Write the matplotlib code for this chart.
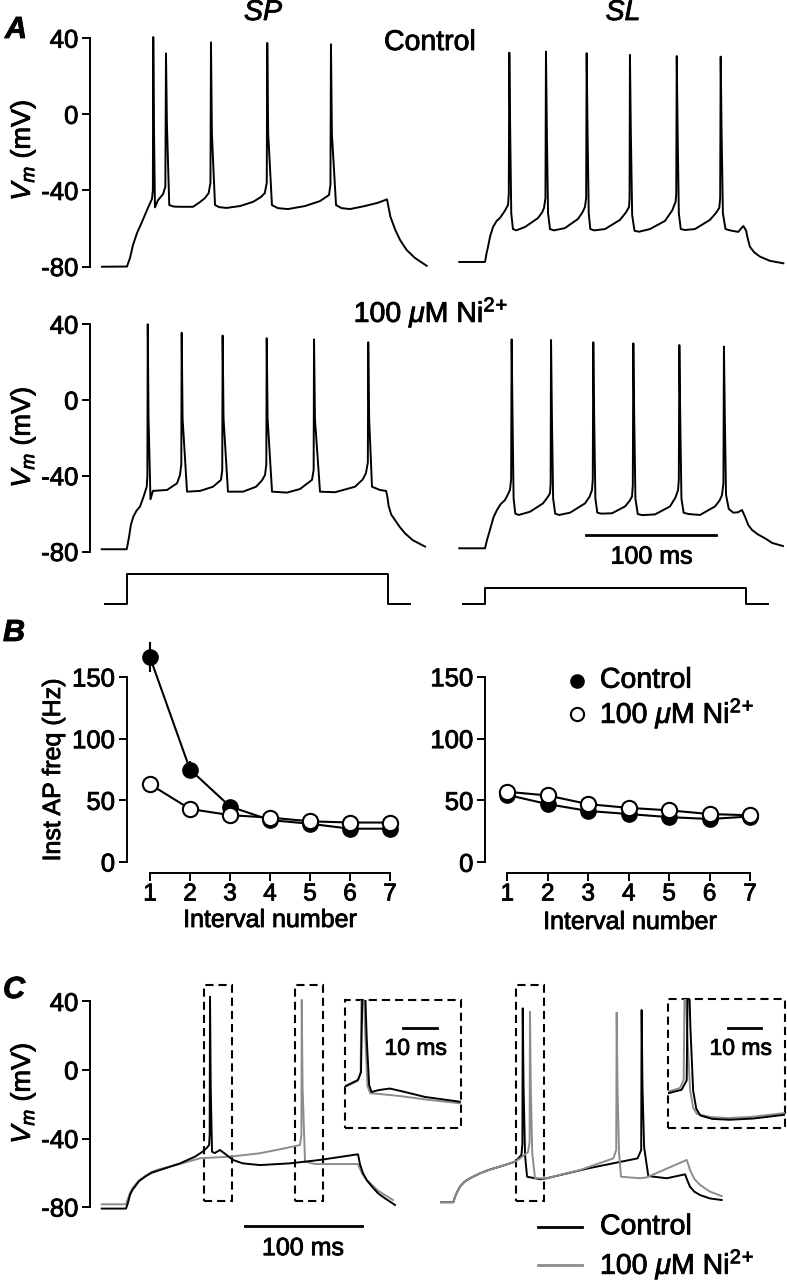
import numpy as np
import matplotlib
matplotlib.use('Agg')
import matplotlib.pyplot as plt
import matplotlib.patheffects as pe
from matplotlib.patches import Rectangle

plt.rcParams['font.family'] = ['Liberation Sans', 'DejaVu Sans']
plt.rcParams['mathtext.fontset'] = 'custom'
plt.rcParams['mathtext.rm'] = 'Liberation Sans'
plt.rcParams['mathtext.it'] = 'Liberation Sans:italic'
plt.rcParams['mathtext.bf'] = 'Liberation Sans:bold'
plt.rcParams['axes.unicode_minus'] = False

W, H = 787, 1280
GREY = '#8c8c8c'
NI = r'100 $\mu$M Ni$^{2}$$^{+}$'
VM = r'$V_m$ (mV)'

# ---------------- data (time in ms from step onset, Vm in mV) ----------------
# A, control
sp_ctrl = np.array([(-19.2, -80.1), (0, -80), (1.0, -78), (2.3, -75.5), (4.6, -68.7), (7.7, -62.4),
    (11.5, -56.6), (15.4, -50.3), (19.2, -44.5), (19.9, -40), (20.2, 40.6), (20.8, -10), (21.5, -48.9),
    (23.8, -45.2), (27.7, -42), (29.5, -38), (30.0, 32), (30.7, -5), (32.5, -47.7), (36, -48.5),
    (40.8, -48.6), (50.8, -48.6), (56, -46.2), (60, -44), (62.8, -41.4), (64.2, -36), (64.6, 37.8),
    (65.3, -10), (67.7, -47.7), (71, -48.8), (76.7, -49.2), (87, -48.2), (97, -46), (103, -43.5),
    (106, -41.4), (107.5, -36), (107.9, 37.5), (108.6, -10), (111.5, -47.7), (116, -49.3), (123.8, -49.8),
    (137, -48.2), (148.5, -45.6), (155.4, -42.4), (156.5, -37), (156.9, 36.8), (157.6, -10),
    (160.8, -47.7), (165, -49.3), (171.5, -49.8), (183, -48.2), (193, -46.5), (200, -44.7), (202.6, -53.8),
    (206.4, -60.8), (210, -66), (215.1, -71.3), (221.5, -75.5), (230.5, -79.6)])
sl_ctrl = np.array([(-19.8, -77.6), (0, -77.6), (1.2, -73), (2.3, -69.7), (4, -64), (6.2, -59.2),
    (9, -56), (11.5, -54.5), (15, -51), (17.7, -47.7), (18.3, -42), (18.7, 32.4), (19.4, -10),
    (20.2, -52), (21.5, -60.3), (24, -61), (30.8, -59.2), (40.8, -54.5), (44, -51.5), (45.4, -49.2),
    (46.5, -44), (46.9, 32.9), (47.6, -10), (48.5, -52), (50, -60.3), (53, -61), (61.5, -59.8),
    (71.5, -55), (75, -51.5), (76.9, -48.7), (77.8, -44), (78.2, 32.1), (78.9, -10), (79.8, -52),
    (81, -60.3), (84, -61), (92.3, -60.3), (103.8, -55.5), (108.5, -51.5), (110.8, -48.7), (111.2, -44),
    (111.5, 31.2), (112.2, -10), (113.2, -53), (115, -61.2), (118.5, -61.7), (126.9, -60.3), (138.5, -56),
    (144, -50.5), (146.6, -46), (147.1, -42), (147.5, 30.6), (148.2, -10), (149.1, -52), (150.6, -60.3),
    (154, -60.8), (161.5, -60.3), (173, -55.5), (177.5, -52), (180.2, -49.2), (180.9, -44), (181.3, 30.3),
    (182, -10), (183, -52), (185, -60.3), (188.5, -61), (194.8, -61.8), (197, -60), (198.7, -58.7),
    (200.8, -61), (202, -65), (203.8, -69.6), (207, -72.5), (211.5, -74.8), (219.2, -77), (229.5, -78.3)])
# A, 100 uM Ni2+
sp_ni = np.array([(-19.2, -78.8), (0, -78.8), (0.8, -76), (1.8, -72.3), (3.2, -66), (5.1, -61.6),
    (7.5, -58.5), (10.2, -56.3), (13, -51), (15.4, -45.8), (15.9, -40), (16.2, 40), (16.8, -10),
    (18.3, -52.4), (20.2, -48), (31, -47.5), (38.7, -44), (41, -39.6), (42.0, -34), (42.3, 35.5),
    (43, -10), (46.4, -48.4), (56.4, -48), (66.4, -45.8), (72.5, -42.2), (73.5, -37), (73.8, 34),
    (74.5, -10), (77.9, -48.4), (89.5, -48.4), (99.5, -45.8), (104, -42.5), (106.4, -39.6), (107.4, -34),
    (107.7, 32.6), (108.4, -10), (111.8, -48.4), (123.3, -48.9), (133.3, -47), (142.5, -42.2),
    (143.8, -37), (144.1, 32), (144.8, -10), (148.7, -48.4), (160.2, -48.7), (175.6, -45.8),
    (181.5, -42), (184, -38.7), (185.5, -33), (185.8, 30.5), (186.5, -10), (188.7, -45.8), (194.8, -47.5),
    (199.5, -48), (200.5, -51), (201.5, -56), (203.5, -60.5), (206.4, -63.4), (210, -67), (214.1, -70.4),
    (220, -74), (229.5, -77.4)])
sl_ni = np.array([(-19.8, -78.3), (0, -78.3), (1.5, -74), (3.8, -68.6), (6.5, -62), (9.2, -58.1),
    (12, -55), (15.4, -52.8), (17.5, -50), (19.2, -47.5), (20.1, -42), (20.5, 32), (21.2, -10),
    (22, -52), (23.3, -60), (26, -60.7), (34.6, -59), (44.6, -54.6), (48, -51.5), (50, -49.3),
    (50.5, -44), (50.8, 31.7), (51.5, -10), (52.4, -52), (54, -60), (57, -60.7), (65.4, -59.5),
    (76.9, -54.6), (80.5, -51), (82.3, -47.5), (82.9, -42), (83.3, 30.5), (84, -10), (84.9, -52),
    (86.4, -59.5), (89.5, -60), (97.7, -59.8), (107.7, -56.2), (111.5, -53), (113.1, -50.9),
    (113.7, -45), (114.1, 29.9), (114.8, -10), (115.7, -52), (117.5, -60.2), (121, -60.8),
    (130.8, -60.4), (142.3, -56.2), (146.5, -51.5), (148.5, -47.5), (149.1, -42), (149.5, 29),
    (150.2, -10), (151.1, -52), (152.8, -59.5), (156.5, -60.2), (165.4, -60.7), (176.9, -56.2),
    (180.5, -53), (182.3, -50.2), (183.4, -44), (183.8, 28.2), (184.5, -10), (185.4, -50),
    (187.5, -57.5), (191, -59.5), (194.5, -59.3), (197.7, -58.1), (200, -61.6), (202.5, -66),
    (205.4, -68.6), (210, -71), (215.4, -73), (221, -75.5), (229.2, -77.1)])
# current step (relative amplitude)
stim_t = [-16.7, 0, 200.7, 218]
stim_sp = [0, 1.0, 0, 0]
stim_sl = [0, 0.55, 0, 0]

# B, instantaneous AP frequency (Hz)
interval = [1, 2, 3, 4, 5, 6, 7]
sp_ctrl_hz = [166, 75, 45, 34, 31, 27, 27]
sp_ctrl_err = [12, 7, 3, 1.5, 1.5, 1.5, 1.5]
sp_ni_hz = [63, 43, 38, 36, 33, 32, 32]
sl_ctrl_hz = [54.5, 47, 41.5, 39, 36.5, 35, 37]
sl_ni_hz = [57, 54, 47, 44, 42, 39, 38]

# C, overlay of control and Ni2+
c_sp_ctrl = np.array([(-20.8, -80.9), (0, -80.9), (1.5, -78), (3.4, -73), (5.5, -70), (7.7, -68.1),
    (11, -65), (16.3, -62.3), (22, -60), (29.1, -58.4), (46.3, -54.5), (59.1, -50.6), (66, -47.5),
    (69.2, -45.5), (71.2, -43.8), (71.7, -38), (72, 42.8), (72.6, -10), (73.7, -47.7), (76, -48.5),
    (80.5, -46.7), (85, -49), (91.7, -52.5), (100, -54.5), (114.8, -55.5), (140.5, -54.5),
    (166.2, -52.5), (198.8, -49.2), (200.5, -55), (203.1, -60.3), (206.5, -64.5), (210.8, -68.1),
    (216, -72), (221.9, -74.9), (230.5, -78.8)])
c_sp_ni = np.array([(-20.8, -78.4), (0, -78.4), (1.5, -75.5), (3.4, -71.8), (5.5, -69), (7.7, -67.1),
    (11, -64.5), (16.3, -61.9), (22, -59.5), (29.1, -57.8), (46.3, -54.9), (63.4, -51.5), (89.1, -50.6),
    (114.8, -48.6), (136.2, -45.7), (149.1, -43.8), (150.3, -38), (150.6, 40.9), (151.3, -10),
    (153.4, -53.5), (162, -54.9), (198.8, -54.9), (200.4, -57.5), (202.2, -60.3), (206, -64),
    (210.8, -67.1), (216, -70.5), (221.9, -73), (228.8, -75.9)])
c_sl_ctrl = np.array([(-19.4, -77.2), (0, -77.2), (1.5, -74), (3.5, -71), (5.7, -68.1), (9.5, -65.3),
    (14.3, -63.2), (22.9, -60.3), (31, -58.2), (40, -56.4), (52.9, -53.5), (58.4, -49.6), (59.2, -43),
    (59.5, 36), (60.2, -10), (61.5, -50), (63.2, -62.3), (74.3, -63.8), (80, -63.2), (117.1, -57.2),
    (157.9, -51.6), (161, -46.7), (161.4, 35), (162.1, -10), (163.5, -45), (167.1, -61.9), (182.9, -63.2),
    (198.6, -60.9), (200.3, -64), (202.8, -68.1), (206.5, -71), (211.4, -73), (220, -75), (230, -75.9)])
c_sl_ni = np.array([(-19.4, -77.2), (0, -77.2), (1.5, -74), (3.5, -71), (5.7, -68.1), (9.5, -65.3),
    (14.3, -63.2), (22.9, -60.3), (31, -58.2), (40, -56.4), (52.9, -53.5), (57.2, -51.6), (64, -47.9),
    (65.4, -42), (65.7, 34), (66.4, -10), (67.6, -48), (70, -63.2), (80, -63.2), (108.5, -58.4),
    (137.1, -51.6), (139.6, -46.7), (140, 33.5), (140.7, -10), (142, -48), (143.7, -62.3), (160, -63.2),
    (165.7, -62.7), (200, -52.5), (201.3, -55), (202.8, -58.4), (206.5, -63.5), (211.4, -67.1),
    (220, -71), (230, -73.6)])
# dashed windows (start in ms) shown enlarged in the insets
c_sp_windows = [66.8, 144.8]
c_sl_windows = [53.7]
win_len = 24.3
win_v = (-76.5, 49.6)
# insets, time from spike peak (ms)
ins_sp_ctrl = np.array([(-5, -44.2), (-1.2, -40.5), (-0.3, -36), (0.4, 42.8), (1.4, -17), (2.1, -43.5),
    (2.8, -47.5), (4.9, -46.4), (8.2, -45.5), (12.6, -47.5), (18.5, -50.4), (28.8, -53.2)])
ins_sp_ni = np.array([(-5, -44.6), (-1.2, -41), (-0.4, -36), (0, 40.9), (1.0, -17), (1.6, -44),
    (2.4, -48.2), (5.3, -48.7), (11.2, -49.9), (20, -52.2), (28.8, -54.1)])
ins_sl_ctrl = np.array([(-4.9, -49.5), (-1, -47.5), (0.5, -42), (0.9, 36), (1.6, -12), (2.4, -48),
    (3.3, -58.5), (4.5, -62.5), (8, -64.5), (13, -65), (20, -64.3), (29.7, -62)])
ins_sl_ni = np.array([(-4.9, -48.6), (-1.5, -46.5), (-0.4, -41.8), (0, 34), (0.6, -12.6), (1.5, -47.6),
    (2.4, -58.1), (3.5, -61.6), (7.4, -63.4), (12.4, -64), (19.1, -63.4), (29.7, -61)])

vm_ticks = [-80, -40, 0, 40]
hz_ticks = [0, 50, 100, 150]

# ---------------- figure ----------------
fig = plt.figure(figsize=(W / 100, H / 100), dpi=100)


def ftext(x, y, s, **kw):
    kw.setdefault('ha', 'center')
    kw.setdefault('va', 'center')
    fig.text(x / W, 1 - y / H, s, **kw)


def trace_axes(l, t, r, b, x0, sx, y0, sy):
    ax = fig.add_axes([l / W, 1 - b / H, (r - l) / W, (b - t) / H])
    ax.set_xlim((l - x0) / sx, (r - x0) / sx)
    ax.set_ylim((y0 - b) / sy, (y0 - t) / sy)
    ax.patch.set_visible(False)
    for s in ax.spines.values():
        s.set_visible(False)
    ax.set_xticks([])
    ax.set_yticks([])
    return ax


def vm_axis(ax):
    ax.spines['left'].set_visible(True)
    ax.spines['left'].set_bounds(-80, 40)
    ax.spines['left'].set_linewidth(1.4)
    ax.set_yticks(vm_ticks)
    ax.tick_params(axis='y', length=5.8, width=1.4, pad=2.5, labelsize=18.5)


def trace(ax, tr, color='k'):
    ax.plot(tr[:, 0], tr[:, 1], color=color, lw=1.4, solid_joinstyle='round')


# A
a1 = trace_axes(90, 20, 440, 285, 127, 1.3, 114.3, 1.903)
vm_axis(a1)
trace(a1, sp_ctrl)
a2 = trace_axes(440, 20, 787, 285, 485, 1.3, 114.3, 1.903)
trace(a2, sl_ctrl)

a3 = trace_axes(90, 300, 440, 570, 126.7, 1.3, 400, 1.894)
vm_axis(a3)
trace(a3, sp_ni)
a4 = trace_axes(440, 300, 787, 570, 485, 1.3, 400, 1.894)
trace(a4, sl_ni)
a4.plot([77.5, 177.5], [-71.3, -71.3], color='k', lw=2)
a4.text(128.2, -82.7, '100 ms', ha='center', va='center', fontsize=18)

s1 = trace_axes(90, 570, 440, 615, 126.7, 1.3, 604.3, 30)
s1.plot(stim_t, stim_sp, color='k', lw=1.4, drawstyle='steps-post')
s2 = trace_axes(440, 570, 787, 615, 485, 1.3, 604.3, 30)
s2.plot(stim_t, stim_sl, color='k', lw=1.4, drawstyle='steps-post')

ftext(16, 30, 'A', fontsize=22, fontweight='bold', style='italic')
ftext(263, 13, 'SP', fontsize=20.5, style='italic')
ftext(623, 13, 'SL', fontsize=20.5, style='italic')
ftext(430, 43, 'Control', fontsize=20.5)
ftext(431, 313, NI, fontsize=20.5)
ftext(23, 150, VM, fontsize=19.5, rotation=90)
ftext(23, 437, VM, fontsize=19.5, rotation=90)


# B
def freq_axes(l, t, r, b, x1, sx, y0, sy):
    ax = fig.add_axes([l / W, 1 - b / H, (r - l) / W, (b - t) / H])
    ax.set_xlim((l - x1) / sx + 1, (r - x1) / sx + 1)
    ax.set_ylim((y0 - b) / sy, (y0 - t) / sy)
    ax.patch.set_visible(False)
    ax.spines['top'].set_visible(False)
    ax.spines['right'].set_visible(False)
    ax.spines['left'].set_bounds(0, 150)
    ax.spines['bottom'].set_bounds(1, 7)
    for s in ['left', 'bottom']:
        ax.spines[s].set_linewidth(1.4)
    ax.set_xticks(interval)
    ax.set_yticks(hz_ticks)
    ax.tick_params(length=5.8, width=1.4, pad=2.5, labelsize=18.5)
    ax.tick_params(axis='x', labelsize=17.5, pad=1.5)
    return ax


b1 = freq_axes(126.7, 640, 392, 873.3, 150, 40, 862, 1.2333)
b1.errorbar(interval, sp_ctrl_hz, yerr=sp_ctrl_err, color='k', lw=1.5, marker='o', ms=11,
            mfc='k', mec='k', capsize=0, elinewidth=1.5, clip_on=False, zorder=3)
b1.plot(interval, sp_ni_hz, color='k', lw=1.5, marker='o', ms=11, mfc='w', mec='k', mew=1.5,
        clip_on=False, zorder=4)

b2 = freq_axes(485, 640, 755, 873.3, 507.3, 40.45, 862.3, 1.2373)
b2.plot(interval, sl_ctrl_hz, color='k', lw=1.5, marker='o', ms=11, mfc='k', mec='k',
        clip_on=False, zorder=3)
b2.plot(interval, sl_ni_hz, color='k', lw=1.5, marker='o', ms=11, mfc='w', mec='k', mew=1.5,
        clip_on=False, zorder=4)
b2.plot([2.716], [146.8], ls='none', marker='o', ms=9.5, mfc='k', mec='k', clip_on=False)
b2.plot([2.716], [119.9], ls='none', marker='o', ms=9.5, mfc='w', mec='k', mew=1.5, clip_on=False)
b2.text(3.29, 146.8, 'Control', ha='left', va='center', fontsize=20.5)
b2.text(3.29, 119.9, NI, ha='left', va='center', fontsize=20.5)

ftext(14, 633, 'B', fontsize=22, fontweight='bold', style='italic')
ftext(53, 770, 'Inst AP freq (Hz)', fontsize=18, rotation=90)
ftext(270, 920, 'Interval number', fontsize=18)
ftext(630, 922, 'Interval number', fontsize=18)

# C
c1 = trace_axes(90, 975, 440, 1275, 126, 1.167, 1070, 1.713)
vm_axis(c1)
trace(c1, c_sp_ni, GREY)
trace(c1, c_sp_ctrl)
for w0 in c_sp_windows:
    c1.add_patch(Rectangle((w0, win_v[0]), win_len, win_v[1] - win_v[0], fill=False,
                           lw=1.5, ls=(0, (3.9, 2.4)), color='k'))
c1.plot([102, 202], [-91.1, -91.1], color='k', lw=2)
c1.text(151.7, -104, '100 ms', ha='center', va='center', fontsize=18)

c2 = trace_axes(440, 975, 787, 1275, 453.3, 1.167, 1070, 1.713)
trace(c2, c_sl_ctrl)
trace(c2, c_sl_ni, GREY)
for w0 in c_sl_windows:
    c2.add_patch(Rectangle((w0, win_v[0]), win_len, win_v[1] - win_v[0], fill=False,
                           lw=1.5, ls=(0, (3.9, 2.4)), color='k'))
c2.plot([72.8, 110], [-91.8, -91.8], color='k', lw=2)
c2.plot([72.8, 110], [-113.8, -113.8], color=GREY, lw=2)
c2.text(125.7, -91.8, 'Control', ha='left', va='center', fontsize=20.5)
c2.text(125.7, -113.8, NI, ha='left', va='center', fontsize=20.5)


def inset(l, t, r, b, x0, y0, tr_ctrl, tr_ni, bar, lab):
    ax = trace_axes(l, t, r, b, x0, 3.4, y0, 1.713)
    ax.add_patch(Rectangle((0, 0), 1, 1, transform=ax.transAxes, fill=False, lw=1.5,
                           ls=(0, (3.9, 2.4)), color='k', clip_on=False))
    trace(ax, tr_ni, GREY)
    trace(ax, tr_ctrl)
    ax.plot(bar[:2], [bar[2], bar[2]], color='k', lw=2)
    ax.text(lab[0], lab[1], '10 ms', ha='center', va='center', fontsize=16.5)
    return ax


inset(345, 1000, 460.7, 1128.3, 362, 1010.6, ins_sp_ctrl, ins_sp_ni, (12.1, 22.1, -10.3), (15.8, -22))
inset(668.3, 999.3, 785, 1128.3, 685, 1008.4, ins_sl_ctrl, ins_sl_ni, (12.7, 22.5, -11.6), (16.4, -23.3))

ftext(14, 990, 'C', fontsize=22, fontweight='bold', style='italic')
ftext(23, 1093, VM, fontsize=19.5, rotation=90)

# slightly heavier text, like the printed figure
for txt in fig.findobj(matplotlib.text.Text):
    txt.set_path_effects([pe.withStroke(linewidth=0.6, foreground='k')])

fig.savefig('out.png', dpi=100)
